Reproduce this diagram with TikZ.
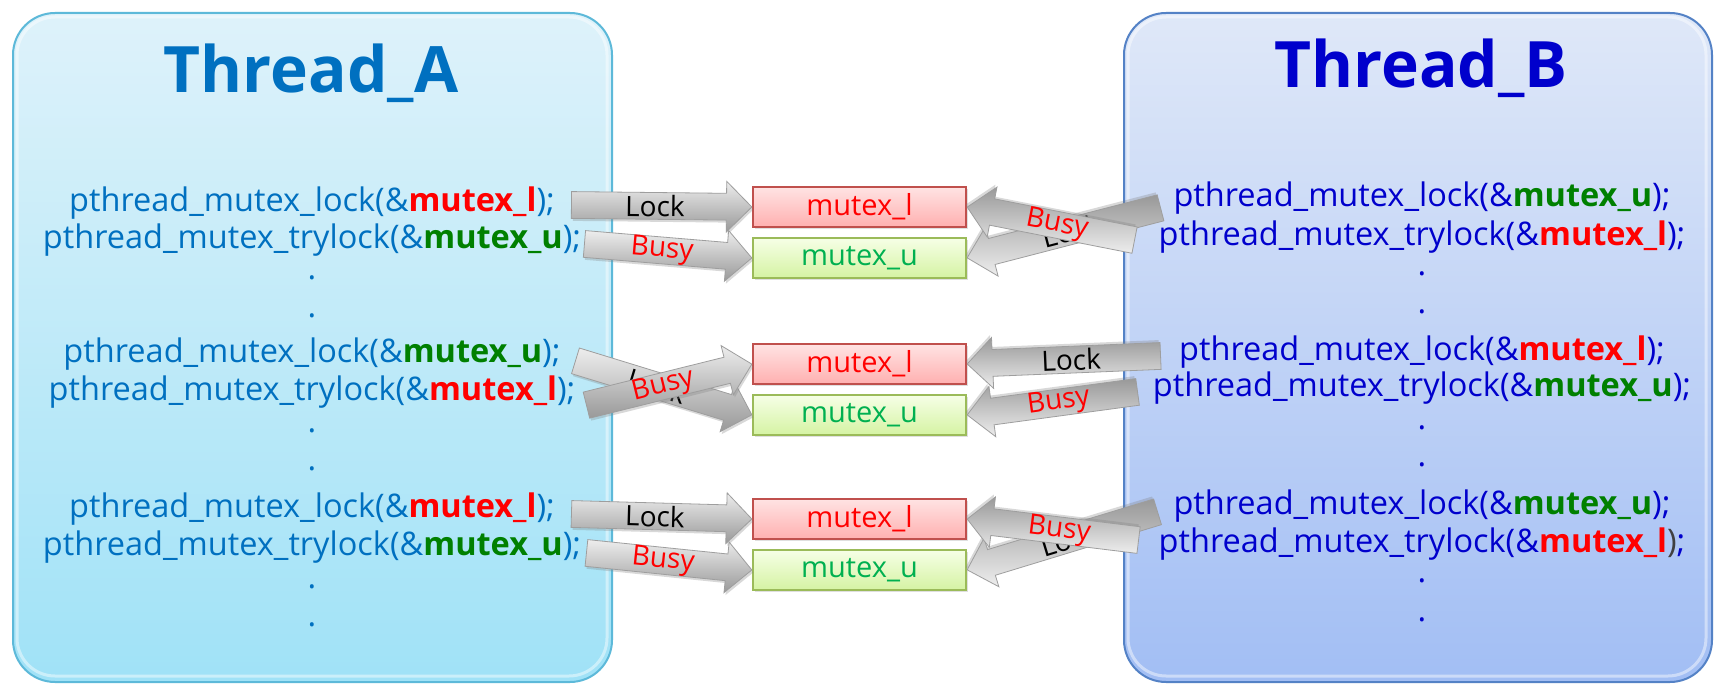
\documentclass[tikz,border=0pt]{standalone}
\usepackage{fontspec}
\setmainfont{Open Sans}
\usetikzlibrary{shapes.arrows,calc,shadows}
\definecolor{codeA}{HTML}{0070C0}
\definecolor{codeB}{HTML}{0000CC}
\definecolor{mred}{HTML}{FF0000}
\definecolor{mgreen}{HTML}{008000}
\definecolor{ugreen}{HTML}{00B050}
\definecolor{mltop}{HTML}{FFE3E3}
\definecolor{mlbot}{HTML}{FFB0B0}
\definecolor{mlborder}{HTML}{C0504D}
\definecolor{mutop}{HTML}{F6FFE6}
\definecolor{mubot}{HTML}{D5F3A3}
\definecolor{muborder}{HTML}{9BBB59}
\definecolor{atop}{HTML}{DEF2FA}
\definecolor{abot}{HTML}{A0E2F7}
\definecolor{aborder}{HTML}{5DB9D9}
\definecolor{btop}{HTML}{DFE8F8}
\definecolor{bbot}{HTML}{A2BEF4}
\definecolor{bborder}{HTML}{5482C6}
\definecolor{cparen}{HTML}{404040}
\newcommand{\mxl}{\textbf{\color{mred}mutex\_l}}
\newcommand{\mxu}{\textbf{\color{mgreen}mutex\_u}}
\newcommand{\barrow}[4]{%
  \path let \p1=(#2), \p2=(#3),
    \n1={atan2(\y2-\y1,\x2-\x1)},
    \n2={veclen(\x2-\x1,\y2-\y1)},
    \n3={mod(\n1+450,180)-90}
  in node[#1, minimum height=\n2, rotate=\n1, anchor=tip] at (\p2) {}
     node[arrlabel, rotate=\n3] at ($(\p1)!0.46!(\p2)$) {#4};
}
\tikzset{
  thread/.style={line width=2pt, rounded corners=42pt, minimum width=599pt, minimum height=669pt, anchor=north west, inner sep=0pt},
  title/.style={anchor=base, font=\fontsize{64}{70}\selectfont\bfseries, inner sep=0pt},
  codeline/.style={anchor=base, font=\fontsize{32.5}{36}\selectfont, inner sep=0pt},
  mbox/.style={line width=1.2pt, minimum width=213pt, minimum height=40pt, inner sep=0pt, font=\fontsize{29}{30}\selectfont, drop shadow={shadow xshift=1.5pt, shadow yshift=-2pt, opacity=.25}},
  mlbox/.style={mbox, draw=mlborder, top color=mltop, bottom color=mlbot, text=mred},
  mubox/.style={mbox, draw=muborder, top color=mutop, bottom color=mubot, text=ugreen},
  arrbase/.style={single arrow, draw=black!38, line width=0.8pt, text height=18pt, text depth=3pt, inner xsep=0pt, inner ysep=2.5pt, single arrow head extend=12pt, single arrow tip angle=90},
  arrR/.style={arrbase, top color=black!7, bottom color=black!40, drop shadow={shadow xshift=1.5pt, shadow yshift=-2.5pt, opacity=.3}},
  arrL/.style={arrbase, top color=black!40, bottom color=black!7, drop shadow={shadow xshift=-1.5pt, shadow yshift=2.5pt, opacity=.3}},
  arrlabel/.style={inner sep=0pt, font=\fontsize{28}{30}\selectfont},
}
\begin{document}
\begin{tikzpicture}[x=1pt,y=-1pt]
\useasboundingbox (0,0) rectangle (1714,684);
\fill[white] (0,0) rectangle (1714,684);
% thread boxes
\node[thread, draw=aborder, top color=atop, bottom color=abot] (threadA) at (12,12) {};
\node[thread, draw=bborder, top color=btop, bottom color=bbot, minimum width=588pt] (threadB) at (1123,12) {};
\draw[white, opacity=.45, line width=3pt, rounded corners=38pt] (17,17) rectangle (607,676);
\draw[white, opacity=.45, line width=3pt, rounded corners=38pt] (1128,17) rectangle (1706,676);
\node[title, text=codeA] (titleA) at (311,93) {Thread\_A};
\node[title, text=codeB] (titleB) at (1421,88) {Thread\_B};
% left code
\begin{scope}[every node/.style={codeline, text=codeA}]
\node (a1) at (312,212) {pthread\_mutex\_lock(\&\mxl);};
\node (a2) at (312,249) {pthread\_mutex\_trylock(\&\mxu);};
\node (ad1) at (312,280) {.};
\node (ad2) at (312,318) {.};
\node (a3) at (312,363) {pthread\_mutex\_lock(\&\mxu);};
\node (a4) at (312,401) {pthread\_mutex\_trylock(\&\mxl);};
\node (ad3) at (312,433) {.};
\node (ad4) at (312,471) {.};
\node (a5) at (312,517) {pthread\_mutex\_lock(\&\mxl);};
\node (a6) at (312,555) {pthread\_mutex\_trylock(\&\mxu);};
\node (ad5) at (312,588) {.};
\node (ad6) at (312,626) {.};
\end{scope}
% right code
\begin{scope}[every node/.style={codeline, text=codeB}]
\node (b1) at (1422,207) {pthread\_mutex\_lock(\&\mxu);};
\node (b2) at (1422,246) {pthread\_mutex\_trylock(\&\mxl);};
\node (bd1) at (1422,276) {.};
\node (bd2) at (1422,314) {.};
\node (b3) at (1422,361) {pthread\_mutex\_lock(\&\mxl);};
\node (b4) at (1422,397) {pthread\_mutex\_trylock(\&\mxu);};
\node (bd3) at (1422,430) {.};
\node (bd4) at (1422,467) {.};
\node (b5) at (1422,514) {pthread\_mutex\_lock(\&\mxu);};
\node (b6) at (1422,552) {pthread\_mutex\_trylock(\&\mxl{\color{cparen})};};
\node (bd5) at (1422,582) {.};
\node (bd6) at (1422,621) {.};
\end{scope}
% mutex boxes
\node[mlbox] (mlA) at (859.5,207) {mutex\_l};
\node[mubox] (muA) at (859.5,258) {mutex\_u};
\node[mlbox] (mlB) at (859.5,364) {mutex\_l};
\node[mubox] (muB) at (859.5,415) {mutex\_u};
\node[mlbox] (mlC) at (859.5,519) {mutex\_l};
\node[mubox] (muC) at (859.5,570) {mutex\_u};
% arrow tails
\coordinate (tA1) at (572,205);
\coordinate (tA2) at (585,244);
\coordinate (tB1) at (1160,208);
\coordinate (tB2) at (1134,240);
\coordinate (tA3) at (576,361);
\coordinate (tA4) at (587,405);
\coordinate (tB3) at (1160,356);
\coordinate (tB4) at (1137,392);
\coordinate (tA5) at (572,514);
\coordinate (tA6) at (587,553);
\coordinate (tB5) at (1157,512);
\coordinate (tB6) at (1138,540);
% group 1
\barrow{arrR}{tA1}{mlA.west}{\textcolor{black}{Lock}}
\barrow{arrR}{tA2}{muA.west}{\textcolor{mred}{Busy}}
\barrow{arrL}{tB1}{muA.east}{\textcolor{black}{Lock}}
\barrow{arrL}{tB2}{mlA.east}{\textcolor{mred}{Busy}}
% group 2
\barrow{arrR}{tA3}{muB.west}{\textcolor{black}{Lock}}
\barrow{arrR}{tA4}{mlB.west}{\textcolor{mred}{Busy}}
\barrow{arrL}{tB3}{mlB.east}{\textcolor{black}{Lock}}
\barrow{arrL}{tB4}{muB.east}{\textcolor{mred}{Busy}}
% group 3
\barrow{arrR}{tA5}{mlC.west}{\textcolor{black}{Lock}}
\barrow{arrR}{tA6}{muC.west}{\textcolor{mred}{Busy}}
\barrow{arrL}{tB5}{muC.east}{\textcolor{black}{Lock}}
\barrow{arrL}{tB6}{mlC.east}{\textcolor{mred}{Busy}}
\end{tikzpicture}
\end{document}
